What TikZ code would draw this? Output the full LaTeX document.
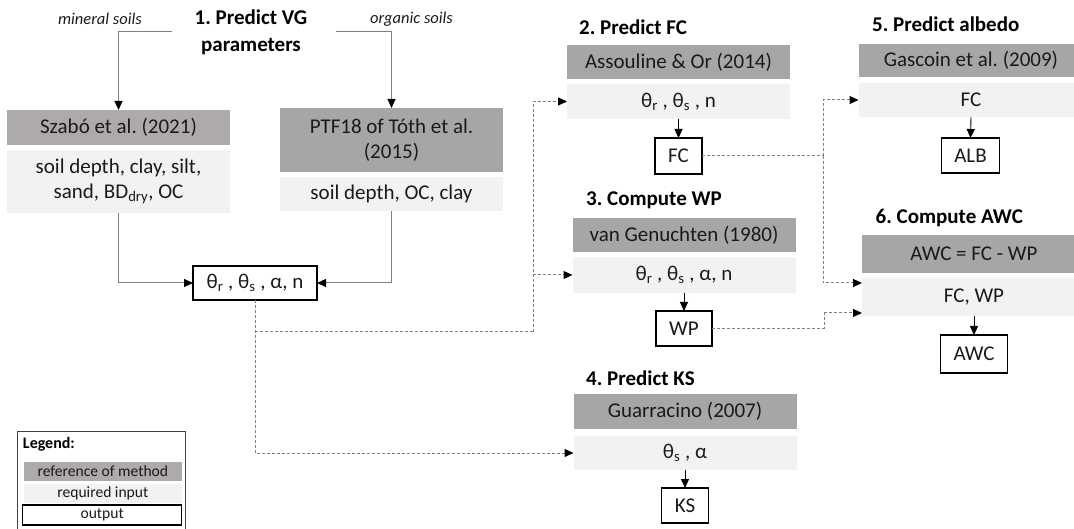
\documentclass[tikz,border=0pt]{standalone}
\usepackage{fontspec}
\setmainfont{Carlito}
\usetikzlibrary{arrows.meta}
\definecolor{refgray}{HTML}{A6A6A6}
\definecolor{refwarm}{HTML}{AEAAAA}
\definecolor{ingray}{HTML}{F2F2F2}
\definecolor{linegray}{HTML}{7F7F7F}
\definecolor{txt}{HTML}{1A1A1A}
\tikzset{
  base/.style={inner sep=0pt, outer sep=0pt, align=center, text=txt,
    font=\fontsize{21}{25}\selectfont},
  refbox/.style={base, fill=refgray},
  refwbox/.style={base, fill=refwarm},
  inbox/.style={base, fill=ingray},
  outbox/.style={base, draw=black, line width=1.3pt, fill=white},
  ttl/.style={inner sep=0pt, text=black, font=\fontsize{21}{27}\selectfont\bfseries, align=center},
  soilt/.style={inner sep=0pt, text=txt, font=\fontsize{16.5}{20}\selectfont\itshape},
  tri/.style={-{Triangle[length=9pt,width=8pt,color=black]}},
  gline/.style={draw=linegray, line width=1pt},
  kline/.style={draw=black, line width=0.9pt, tri},
  dline/.style={draw=linegray, line width=1pt, dash pattern=on 3pt off 2pt},
  legt/.style={base, font=\fontsize{15.6}{18}\selectfont},
}
\newcommand{\tsub}[1]{\textsubscript{#1}}
\begin{document}
\frenchspacing
\begin{tikzpicture}[x=1pt,y=-1pt]
\useasboundingbox (0,0) rectangle (1074,529);

% ---- step 1
\node[ttl] (t1) at (251,32) {1. Predict VG\\parameters};
\node[soilt] (ms) at (100,19) {mineral soils};
\node[soilt] (os) at (411.5,19) {organic soils};
\coordinate (t1l) at (172,32);
\coordinate (t1r) at (336,32);

\node[refwbox, minimum width=223pt, minimum height=35pt] (szref) at (118.5,127.5) {Szabó et al. (2021)};
\node[inbox, minimum width=223pt, minimum height=63pt] (szin) at (118.5,181.5) {soil depth, clay, silt,\\sand, BD\tsub{dry}, OC};
\node[refbox, minimum width=223pt, minimum height=64pt] (ptfref) at (391.5,140) {PTF18 of Tóth et al.\\(2015)};
\node[inbox, minimum width=223pt, minimum height=34pt] (ptfin) at (391.5,194) {soil depth, OC, clay};
\node[outbox, minimum width=124pt, minimum height=34pt] (out1) at (255,283) {θ\tsub{r} , θ\tsub{s} , α, n};

\draw[gline, tri] (t1l) -| (szref.north);
\draw[gline, tri] (t1r) -| (ptfref.north);
\draw[gline, tri] (szin.south) |- (out1.west);
\draw[gline, tri] (ptfin.south) |- (out1.east);

% ---- step 2
\node[ttl, anchor=west] (t2) at (579,27) {2. Predict FC};
\node[refbox, minimum width=223pt, minimum height=34pt] (asref) at (678.5,62) {Assouline \& Or (2014)};
\node[inbox, minimum width=223pt, minimum height=35pt] (fcin) at (678.5,101.5) {θ\tsub{r} , θ\tsub{s} , n};
\node[outbox, minimum width=47pt, minimum height=36pt] (fcout) at (678.5,156) {FC};
\draw[kline] (fcin.south) -- (fcout.north);

% ---- step 3
\node[ttl, anchor=west] (t3) at (586,200) {3. Compute WP};
\node[refbox, minimum width=223pt, minimum height=34pt] (vgref) at (684,235) {van Genuchten (1980)};
\node[inbox, minimum width=223pt, minimum height=36pt] (wpin) at (684,275) {θ\tsub{r} , θ\tsub{s} , α, n};
\node[outbox, minimum width=56pt, minimum height=35pt] (wpout) at (684,328.5) {WP};
\draw[kline] (wpin.south) -- (wpout.north);

% ---- step 4
\node[ttl, anchor=west] (t4) at (586,378.5) {4. Predict KS};
\node[refbox, minimum width=223pt, minimum height=35pt] (guref) at (685,411.5) {Guarracino (2007)};
\node[inbox, minimum width=223pt, minimum height=34pt] (ksin) at (685,453) {θ\tsub{s} , α};
\node[outbox, minimum width=46.5pt, minimum height=35pt] (ksout) at (685,505.5) {KS};
\draw[kline] (ksin.south) -- (ksout.north);

% ---- step 5
\node[ttl, anchor=west] (t5) at (872,24.5) {5. Predict albedo};
\node[refbox, minimum width=225pt, minimum height=33pt] (garef) at (971,60.5) {Gascoin et al. (2009)};
\node[inbox, minimum width=225pt, minimum height=34pt] (fcin2) at (971,100) {FC};
\node[outbox, minimum width=58pt, minimum height=35pt] (alb) at (970.5,155.5) {ALB};
\draw[kline] (fcin2.south) -- (alb.north);

% ---- step 6
\node[ttl, anchor=west] (t6) at (875.5,218) {6. Compute AWC};
\node[refbox, minimum width=224pt, minimum height=38pt] (awcref) at (974,254) {AWC = FC - WP};
\node[inbox, minimum width=224pt, minimum height=38pt] (awcin) at (974,297) {FC, WP};
\node[outbox, minimum width=67pt, minimum height=38pt] (awc) at (974,354) {AWC};
\draw[kline] (awcin.south) -- (awc.north);

% ---- dashed connectors
\coordinate (j1) at (255,332);
\coordinate (v1) at (533,332);
\coordinate (v2) at (823,156);
\coordinate (v3) at (824,313);
\draw[dline, tri] (out1.south) |- (ksin.west);
\draw[dline] (j1) -- (v1);
\draw[dline, tri] (v1) |- (fcin.west);
\draw[dline, tri] (v1 |- wpin.west) -- (wpin.west);
\draw[dline] (fcout.east) -- (v2);
\draw[dline, tri] (v2) |- (fcin2.west);
\draw[dline, tri] (v2) |- ([yshift=14pt]awcin.west);
\draw[dline] (wpout.east) -| (v3);
\draw[dline, tri] (v3) -- ([yshift=-16pt]awcin.west);

% ---- legend
\draw[draw=black!75, line width=0.8pt] (17.5,431.7) rectangle (185.7,540);
\node[base, anchor=west, font=\fontsize{16}{18}\selectfont\bfseries, text=black] (lg) at (23,444) {Legend:};
\node[legt, fill=refwarm, minimum width=157.7pt, minimum height=19.3pt] (lref) at (102.85,471.3) {reference of method};
\node[legt, fill=ingray, minimum width=157.7pt, minimum height=18.7pt] (lin) at (102.85,493.3) {required input};
\node[legt, draw=black, line width=1.4pt, minimum width=159pt, minimum height=20pt] (lout) at (102.2,515) {output};
\end{tikzpicture}
\end{document}
